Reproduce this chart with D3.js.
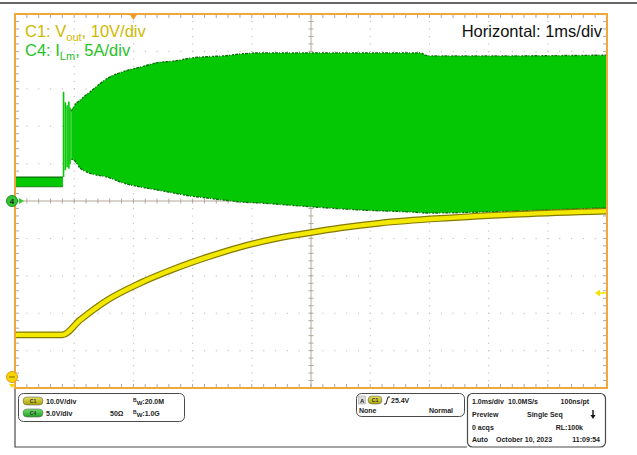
<!DOCTYPE html>
<html>
<head>
<meta charset="utf-8">
<script src="https://cdn.jsdelivr.net/npm/d3@7"></script>
<style>
  html, body { margin: 0; padding: 0; background: #fff; }
  svg { display: block; font-family: "Liberation Sans", Arial, sans-serif; }
</style>
</head>
<body>
<svg id="scope" width="637" height="455"></svg>
<script>
// ---- Acquisition data (time in ms relative to trigger) ----
// C1: output voltage, volts
const vOutTime = [-2.0, -1.2, -0.9, -0.44, 0.12, 0.68, 1.25, 1.81, 2.36, 2.94, 3.5, 4.17, 5.35, 6.54, 8.0];
const vOutVolts = [14.2, 14.2, 18.2, 23.5, 28.1, 31.8, 35.0, 37.7, 39.8, 41.4, 42.8, 44.1, 45.5, 46.5, 47.3];

// C4: magnetizing current, amps — idle band before start-up
const iIdleTime = [-2.0, -1.19];
const iIdleHigh = [3.2, 3.2];
const iIdleLow = [1.9, 1.9];

// C4: first start-up spikes
const iSpikeTime = [-1.18, -1.15, -1.12, -1.09, -1.07];
const iSpikeHigh = [14.6, 13.2, 12.8, 13.3, 12.5];
const iSpikeLow = [3.2, 4.1, 4.5, 4.3, 4.9];

// C4: envelope of the switching ripple
const iEnvTime = [-1.05, -1.01, -0.90, -0.73, -0.44, -0.17, 0.12, 0.41, 0.68, 0.96, 1.25, 1.52, 1.81, 2.15, 2.82, 3.83, 4.85, 4.93, 5.02, 6.2, 8.0];
const iEnvHigh = [12.0, 12.6, 13.5, 14.6, 16.4, 17.3, 17.9, 18.5, 18.7, 19.1, 19.3, 19.4, 19.65, 19.8, 19.8, 19.8, 19.8, 19.5, 19.4, 19.4, 19.5];
const iEnvLow = [5.6, 5.5, 4.4, 3.7, 3.2, 2.4, 1.87, 1.47, 1.07, 0.67, 0.40, 0.13, -0.13, -0.27, -0.67, -1.2, -1.55, -1.6, -1.6, -1.4, -0.9];

// Channel settings
const c1VoltsPerDiv = 10, c1OffsetDiv = -5;
const c4AmpsPerDiv = 5, c4OffsetDiv = 0;
const triggerLevel = 25.4;

// Text
const c1Label = ["C1: V", "out", ", 10V/div"];
const c4Label = ["C4: I", "Lm", ", 5A/div"];
const horizLabel = "Horizontal: 1ms/div";

// ---- Layout ----
const svg = d3.select("#scope");
const L = 15, R = 607, T = 14, B = 388;
const x = d3.scaleLinear().domain([-2, 8]).range([L, R]);
const yDiv = d3.scaleLinear().domain([-5, 5]).range([B, T]);
const yC1 = v => yDiv(v / c1VoltsPerDiv + c1OffsetDiv);
const yC4 = a => yDiv(a / c4AmpsPerDiv + c4OffsetDiv);

const xMajor = d3.range(-2, 8.001, 1);
const xMinor = d3.range(0, 51).map(i => -2 + i * 0.2);
const yMajor = d3.range(-5, 5.001, 1);
const yMinor = d3.range(0, 51).map(i => -5 + i * 0.2);

// top rule
svg.append("line").attr("x1", 0).attr("x2", 637).attr("y1", 3).attr("y2", 3)
  .attr("stroke", "#333").attr("stroke-width", 1.5);

// ---- Graticule ----
const grid = svg.append("g");
// dotted major rows
yMajor.filter(d => d > -5 && d < 5 && d !== 0).forEach(d => {
  grid.selectAll(null).data(xMinor.filter(t => t > -2 && t < 8)).enter().append("rect")
    .attr("x", t => x(t) - 0.5).attr("y", yDiv(d) - 0.5).attr("width", 1.2).attr("height", 1.2)
    .attr("fill", "#c4c4c4");
});
// dotted major columns
xMajor.filter(t => t > -2 && t < 8 && t !== 3).forEach(t => {
  grid.selectAll(null).data(yMinor.filter(d => d > -5 && d < 5)).enter().append("rect")
    .attr("x", x(t) - 0.5).attr("y", d => yDiv(d) - 0.5).attr("width", 1.2).attr("height", 1.2)
    .attr("fill", "#c4c4c4");
});
// centre axes
const axisCol = "#b3a89a";
grid.append("line").attr("x1", L).attr("x2", R).attr("y1", yDiv(0)).attr("y2", yDiv(0))
  .attr("stroke", axisCol).attr("stroke-width", 1);
grid.append("line").attr("x1", x(3)).attr("x2", x(3)).attr("y1", T).attr("y2", B)
  .attr("stroke", axisCol).attr("stroke-width", 1);
grid.selectAll(null).data(xMinor).enter().append("line")
  .attr("x1", t => x(t)).attr("x2", t => x(t)).attr("y1", yDiv(0) - 2.5).attr("y2", yDiv(0) + 2.5)
  .attr("stroke", axisCol);
grid.selectAll(null).data(yMinor).enter().append("line")
  .attr("x1", x(3) - 2.5).attr("x2", x(3) + 2.5).attr("y1", d => yDiv(d)).attr("y2", d => yDiv(d))
  .attr("stroke", axisCol);
// edge ticks
const edgeCol = "#a8a8a8";
grid.selectAll(null).data(xMinor).enter().append("line")
  .attr("x1", t => x(t)).attr("x2", t => x(t)).attr("y1", T).attr("y2", T + 4).attr("stroke", edgeCol);
grid.selectAll(null).data(xMinor).enter().append("line")
  .attr("x1", t => x(t)).attr("x2", t => x(t)).attr("y1", B - 4).attr("y2", B).attr("stroke", edgeCol);
grid.selectAll(null).data(yMinor).enter().append("line")
  .attr("x1", L).attr("x2", L + 4).attr("y1", d => yDiv(d)).attr("y2", d => yDiv(d)).attr("stroke", edgeCol);
grid.selectAll(null).data(yMinor).enter().append("line")
  .attr("x1", R - 4).attr("x2", R).attr("y1", d => yDiv(d)).attr("y2", d => yDiv(d)).attr("stroke", edgeCol);

// ---- C4 trace ----
const green = "#04c804", greenDark = "#0a6e0a";
const c4 = svg.append("g");
const idle = iIdleTime.map((t, i) => ({ t, hi: iIdleHigh[i], lo: iIdleLow[i] }));
const env = iEnvTime.map((t, i) => ({ t, hi: iEnvHigh[i], lo: iEnvLow[i] }));
const spikes = iSpikeTime.map((t, i) => ({ t, hi: iSpikeHigh[i], lo: iSpikeLow[i] }));

const bandArea = d3.area().x(d => x(d.t)).y0(d => yC4(d.lo)).y1(d => yC4(d.hi));
c4.append("path").datum(idle).attr("d", bandArea).attr("fill", green);
c4.append("path").datum(idle).attr("d", d3.line().x(d => x(d.t)).y(d => yC4(d.hi)))
  .attr("fill", "none").attr("stroke", greenDark).attr("stroke-width", 1.2);
c4.append("path").datum(idle).attr("d", d3.line().x(d => x(d.t)).y(d => yC4(d.lo)))
  .attr("fill", "none").attr("stroke", greenDark).attr("stroke-width", 0.8);

c4.selectAll(null).data(spikes).enter().append("line")
  .attr("x1", d => x(d.t)).attr("x2", d => x(d.t))
  .attr("y1", d => yC4(d.hi)).attr("y2", d => yC4(d.lo))
  .attr("stroke", green).attr("stroke-width", 1.6);

const envArea = d3.area().curve(d3.curveMonotoneX)
  .x(d => x(d.t)).y0(d => yC4(d.lo)).y1(d => yC4(d.hi));
c4.append("path").datum(env).attr("d", envArea).attr("fill", green);
c4.append("path").datum(env)
  .attr("d", d3.line().curve(d3.curveMonotoneX).x(d => x(d.t)).y(d => yC4(d.hi)))
  .attr("fill", "none").attr("stroke", greenDark).attr("stroke-width", 1.4)
  .attr("stroke-dasharray", "3 1 1 2 2 1");
c4.append("path").datum(env)
  .attr("d", d3.line().curve(d3.curveMonotoneX).x(d => x(d.t)).y(d => yC4(d.lo)))
  .attr("fill", "none").attr("stroke", greenDark).attr("stroke-width", 1.4)
  .attr("stroke-dasharray", "2 1 3 1 1 2");

// ---- C1 trace ----
const c1 = svg.append("g");
const vout = vOutTime.map((t, i) => ({ t, v: vOutVolts[i] }));
const vLine = d3.line().curve(d3.curveMonotoneX).x(d => x(d.t)).y(d => yC1(d.v));
c1.append("path").datum(vout).attr("d", vLine).attr("fill", "none")
  .attr("stroke", "#857a00").attr("stroke-width", 6.8);
c1.append("path").datum(vout).attr("d", vLine).attr("fill", "none")
  .attr("stroke", "#f2e800").attr("stroke-width", 4.4);

// ---- Frame ----
svg.append("rect").attr("x", L).attr("y", T).attr("width", R - L).attr("height", B - T)
  .attr("fill", "none").attr("stroke", "#f2a73a").attr("stroke-width", 2);

// trigger position marker
const tx = x(0);
svg.append("path").attr("d", `M${tx - 4},${T} L${tx + 4},${T} L${tx},${T + 6} Z`).attr("fill", "#f29a2a");
// trigger level marker (right edge)
const ty = yC1(triggerLevel);
svg.append("path").attr("d", `M${R - 12},${ty} L${R - 7},${ty - 3.5} L${R - 7},${ty + 3.5} Z`).attr("fill", "#f2e400");
svg.append("line").attr("x1", R - 8).attr("x2", R - 1).attr("y1", ty).attr("y2", ty)
  .attr("stroke", "#f2e400").attr("stroke-width", 1.5);

// C4 ground marker
const g4 = yC4(0);
svg.append("circle").attr("cx", 12).attr("cy", g4).attr("r", 5.5).attr("fill", "#35c435").attr("stroke", "#1f8f1f");
svg.append("text").attr("x", 12).attr("y", g4 + 3).attr("text-anchor", "middle")
  .attr("font-size", 8).attr("font-weight", "bold").attr("fill", "#113311").text("4");
svg.append("path").attr("d", `M19,${g4 - 3} L24,${g4} L19,${g4 + 3} Z`).attr("fill", "#2fcf2f");

// C1 ground marker (offset below screen)
const g1 = B - 11;
svg.append("circle").attr("cx", 12).attr("cy", g1).attr("r", 5.5).attr("fill", "#f6d600").attr("stroke", "#e89a20");
svg.append("line").attr("x1", 9).attr("x2", 15).attr("y1", g1).attr("y2", g1).attr("stroke", "#7a6a00").attr("stroke-width", 1);
svg.append("path").attr("d", `M9,${g1 + 7} L15,${g1 + 7} L12,${g1 + 11} Z`).attr("fill", "#f6d600");

// ---- Channel labels ----
function labelText(parts, xPos, yPos, color, anchor) {
  const t = svg.append("text").attr("x", xPos).attr("y", yPos).attr("fill", color)
    .attr("font-size", 16.5).attr("text-anchor", anchor || "start");
  t.append("tspan").text(parts[0]);
  if (parts.length > 1) {
    t.append("tspan").attr("font-size", 11).attr("dy", 4).text(parts[1]);
    t.append("tspan").attr("dy", -4).text(parts[2]);
  }
  return t;
}
labelText(c1Label, 25, 37, "#cdb900");
labelText(c4Label, 25, 56, "#27c227");
labelText([horizLabel], 602, 37, "#111", "end");

// ---- Status panel ----
const panel = svg.append("g").attr("font-size", 7).attr("font-weight", "bold").attr("fill", "#222");
const pcol = "#4a4a4a";
panel.append("path").attr("d", `M${L},${B + 1} L${L},447 L467,447`).attr("fill", "none")
  .attr("stroke", pcol).attr("stroke-width", 1.2);
panel.append("rect").attr("x", 18.5).attr("y", 393.5).attr("width", 166).attr("height", 28).attr("rx", 5)
  .attr("fill", "#fff").attr("stroke", pcol);
panel.append("rect").attr("x", 356.5).attr("y", 393.5).attr("width", 108).attr("height", 23).attr("rx", 5)
  .attr("fill", "#fff").attr("stroke", pcol);
panel.append("rect").attr("x", 467.5).attr("y", 393.5).attr("width", 138).attr("height", 53.5).attr("rx", 5)
  .attr("fill", "#fff").attr("stroke", pcol).attr("stroke-width", 1.2);

function pill(px, py, w, fillTop, fillBot, label) {
  const id = "g" + label.trim() + px;
  const grad = svg.append("defs").append("linearGradient").attr("id", id)
    .attr("x1", 0).attr("y1", 0).attr("x2", 0).attr("y2", 1);
  grad.append("stop").attr("offset", "0%").attr("stop-color", fillTop);
  grad.append("stop").attr("offset", "100%").attr("stop-color", fillBot);
  panel.append("rect").attr("x", px).attr("y", py - 4).attr("width", w).attr("height", 8).attr("rx", 4)
    .attr("fill", `url(#${id})`).attr("stroke", "#666").attr("stroke-width", 0.6);
  panel.append("text").attr("x", px + w / 2).attr("y", py + 2).attr("text-anchor", "middle")
    .attr("font-size", 5).attr("fill", "#333").text(label.trim());
}
function bw(px, py, val) {
  const t = panel.append("text").attr("x", px).attr("y", py);
  t.append("tspan").attr("font-size", 5).attr("dy", -2).text("B");
  t.append("tspan").attr("font-size", 6).attr("dy", 3).text("W");
  t.append("tspan").attr("dy", -1).text(":" + val);
}
pill(23, 401, 20, "#e8e060", "#a8a000", "C1");
panel.append("text").attr("x", 46).attr("y", 403.5).text("10.0V/div");
bw(133, 403.5, "20.0M");
pill(23, 413, 20, "#70e070", "#20a020", "C4");
panel.append("text").attr("x", 46).attr("y", 415.5).text("5.0V/div");
panel.append("text").attr("x", 110).attr("y", 415.5).text("50Ω");
bw(133, 415.5, "1.0G");

// trigger box
panel.append("rect").attr("x", 358.5).attr("y", 396).attr("width", 7).attr("height", 8).attr("fill", "#ddd").attr("stroke", "#999").attr("stroke-width", 0.5);
panel.append("text").attr("x", 360).attr("y", 402.5).attr("font-size", 6).text("A");
pill(368, 400, 14, "#e8e060", "#a8a000", "C1");
panel.append("path").attr("d", "M384,404 L386,404 L388,397 L390,397").attr("fill", "none").attr("stroke", "#222").attr("stroke-width", 1);
panel.append("text").attr("x", 391).attr("y", 402.5).text("25.4V");
panel.append("text").attr("x", 359).attr("y", 413).text("None");
panel.append("text").attr("x", 453).attr("y", 413).attr("text-anchor", "end").text("Normal");

// horizontal / acquisition box
panel.append("text").attr("x", 472).attr("y", 403.5).text("1.0ms/div");
panel.append("text").attr("x", 508).attr("y", 403.5).text("10.0MS/s");
panel.append("text").attr("x", 589).attr("y", 403.5).attr("text-anchor", "end").text("100ns/pt");
panel.append("text").attr("x", 472).attr("y", 416.5).text("Preview");
panel.append("text").attr("x", 527).attr("y", 416.5).text("Single Seq");
panel.append("path").attr("d", "M592.3,410 L592.3,415 L590.5,415 L593,419 L595.5,415 L593.7,415 L593.7,410 Z").attr("fill", "#111");
panel.append("text").attr("x", 472).attr("y", 429.5).text("0 acqs");
panel.append("text").attr("x", 583).attr("y", 429.5).attr("text-anchor", "end").text("RL:100k");
panel.append("text").attr("x", 472).attr("y", 441.5).text("Auto");
panel.append("text").attr("x", 496).attr("y", 441.5).text("October 10, 2023");
panel.append("text").attr("x", 600).attr("y", 441.5).attr("text-anchor", "end").text("11:09:54");
</script>
</body>
</html>
